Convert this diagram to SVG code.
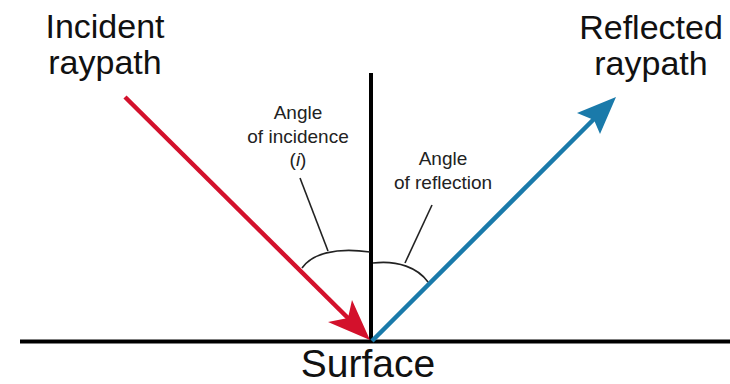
<svg xmlns="http://www.w3.org/2000/svg" width="730" height="384" viewBox="0 0 730 384">
<style>
  .big { font-family: "Liberation Sans", Arial, sans-serif; font-size: 34px; fill: #111; text-anchor: middle; }
  .small { font-family: "Liberation Sans", Arial, sans-serif; font-size: 19px; fill: #222; text-anchor: middle; }
  .surf { font-family: "Liberation Sans", Arial, sans-serif; font-size: 39px; fill: #111; text-anchor: middle; }
  .axis { stroke: #000; fill: none; stroke-linecap: butt; }
  .thin { stroke: #222; stroke-width: 1.6; fill: none; }
</style>
<rect width="730" height="384" fill="#fff"/>
<g id="surface">
  <line class="axis" x1="20" y1="341.5" x2="730" y2="341.5" stroke-width="4"/>
  <text class="surf" x="368" y="377">Surface</text>
</g>
<g id="normal">
  <line class="axis" x1="371" y1="73" x2="371" y2="342" stroke-width="4"/>
</g>
<g id="connectors">
  <g id="incident-ray">
    <line x1="125" y1="97" x2="352" y2="322" stroke="#d3112c" stroke-width="4.5"/>
    <polygon points="370,340 328,322 348,318 352,300" fill="#d3112c"/>
  </g>
  <g id="reflected-ray">
    <line x1="372" y1="341" x2="597" y2="116" stroke="#1a7aaa" stroke-width="4.5"/>
    <polygon points="616,97 577,113 594,120 600,134" fill="#1a7aaa"/>
  </g>
  <g id="incidence-angle-mark">
    <path class="thin" d="M302,268 C312,254 335,247 370,252"/>
    <line class="thin" x1="300" y1="178" x2="328" y2="251"/>
  </g>
  <g id="reflection-angle-mark">
    <path class="thin" d="M373,263 C398,260 418,268 428,282"/>
    <line class="thin" x1="432" y1="205" x2="405" y2="263"/>
  </g>
</g>
<g id="label-incident">
  <text class="big" x="105" y="38">Incident</text>
  <text class="big" x="105" y="74">raypath</text>
</g>
<g id="label-reflected">
  <text class="big" x="651" y="39">Reflected</text>
  <text class="big" x="651" y="75">raypath</text>
</g>
<g id="label-incidence">
  <text class="small" x="298" y="119">Angle</text>
  <text class="small" x="298" y="143">of incidence</text>
  <text class="small" x="298" y="166">(<tspan font-style="italic">i</tspan>)</text>
</g>
<g id="label-reflection">
  <text class="small" x="443" y="165">Angle</text>
  <text class="small" x="443" y="189">of reflection</text>
</g>
</svg>
